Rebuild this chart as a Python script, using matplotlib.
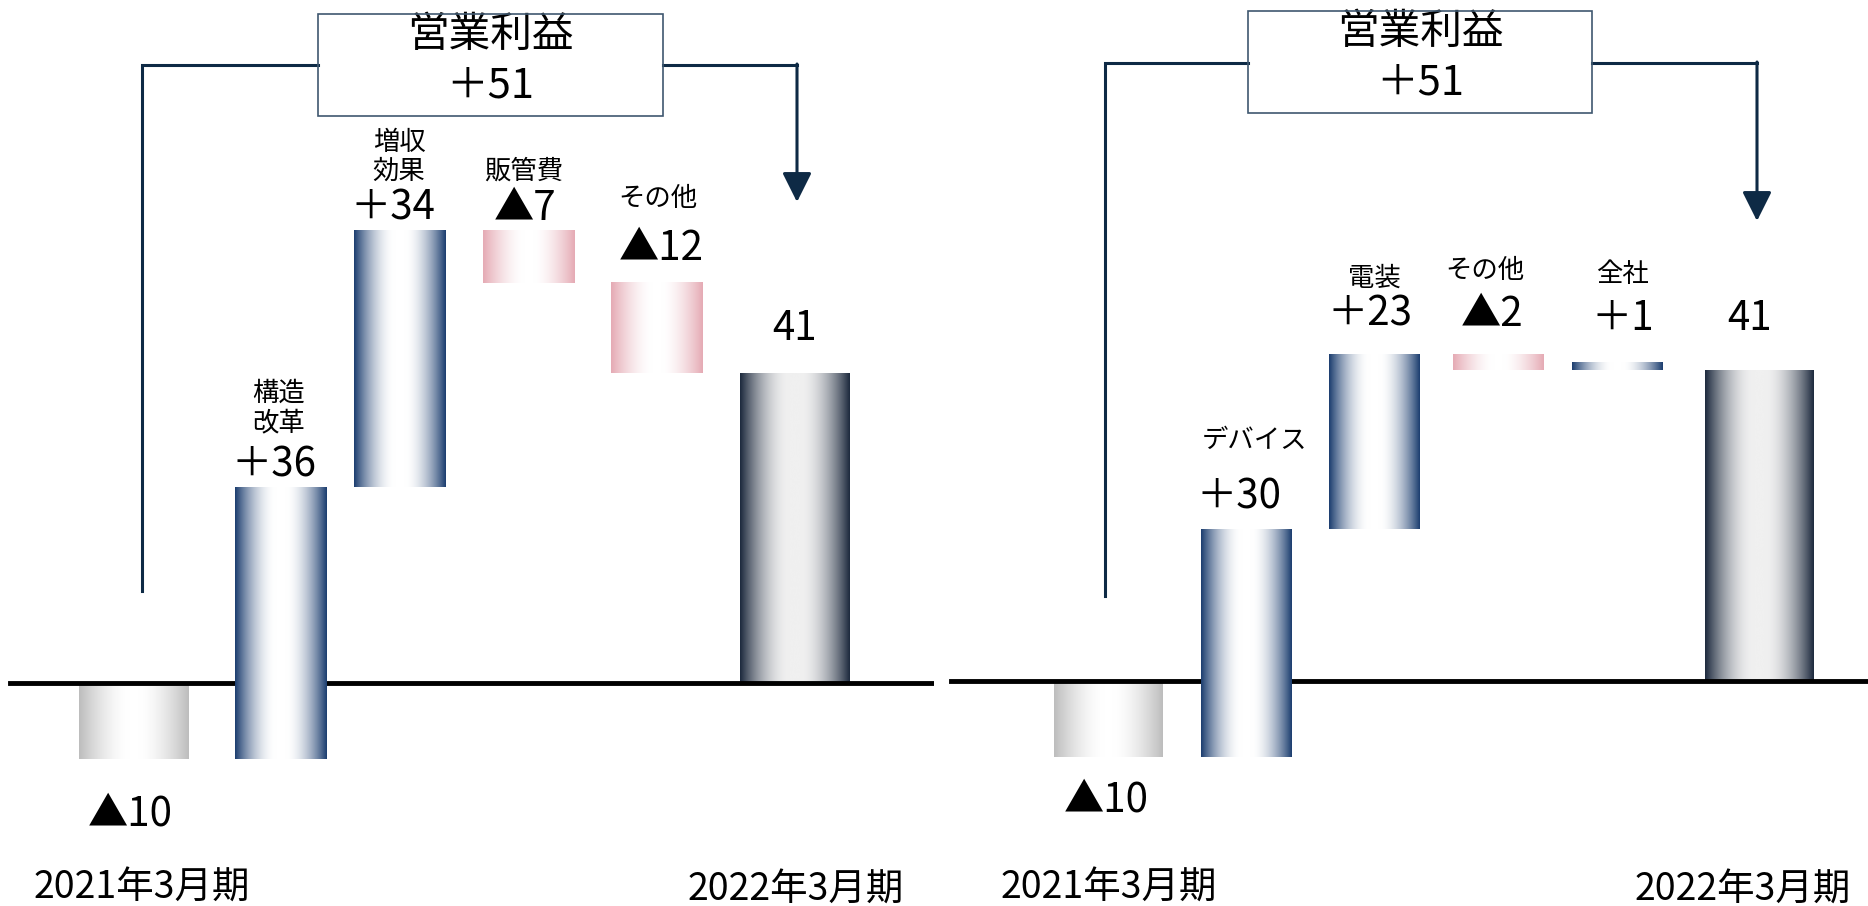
import matplotlib

matplotlib.use("Agg")

import matplotlib.pyplot as plt
import numpy as np
from matplotlib.colors import ListedColormap, to_rgb
from matplotlib.patches import Rectangle

plt.rcParams["font.family"] = ["Noto Sans CJK JP", "DejaVu Sans"]

# ---- data ----
period_labels = ["2021年3月期", "2022年3月期"]
total_title = "営業利益"

left_start = -10
left_steps = [36, 34, -7, -12]
left_names = ["構造\n改革", "増収\n効果", "販管費", "その他"]
left_end = 41

right_start = -10
right_steps = [30, 23, -2, 1]
right_names = ["デバイス", "電装", "その他", "全社"]
right_end = 41

# ---- layout (pixels of the 1868x906 canvas) ----
W, H = 1868, 906
NAVY = "#0e2a45"

LEFT = dict(
    span=(0, 934), base_px=683, ppu=7.55,
    centers=[134.5, 281, 400.5, 529.5, 657.5, 795.5],
    end_w=110, step_w=92, line=(10, 940),
    box=(318, 14, 663, 116), title_y=(35, 86),
    conn_left=(142, 591), conn_right=(797, 202), conn_y=65,
    start_lbl=(130, 814), period_pos=[(142, 888), (796, 890)],
    name_pos=[(279, 408), (399, 157), (524, 171), (658, 198)],
    val_pos=[(274, 465), (393, 208), (525, 208), (661, 248)],
    end_lbl=(795, 328),
)
RIGHT = dict(
    span=(934, 1868), base_px=681, ppu=7.58,
    centers=[1108.5, 1246.5, 1374.5, 1498, 1617.5, 1759],
    end_w=109, step_w=91, line=(951, 1868),
    box=(1248, 11, 1592, 113), title_y=(32, 83),
    conn_left=(1105, 596), conn_right=(1757, 221), conn_y=63,
    start_lbl=(1106, 800), period_pos=[(1109, 888), (1743, 890)],
    name_pos=[(1254, 440), (1374, 278), (1485, 270), (1622, 275)],
    val_pos=[(1239, 497), (1370, 314), (1492, 314), (1623, 318)],
    end_lbl=(1750, 318),
)


def cylinder_cmap(edge, center, plateau=0.12, power=2.0):
    # symmetric shading: flat highlight in the middle, darkening faster toward the edges
    t = np.linspace(0, 1, 256)
    d = np.abs(t - 0.5) / 0.5
    f = np.clip((d - plateau) / (1 - plateau), 0, 1) ** power
    e, c = np.array(to_rgb(edge)), np.array(to_rgb(center))
    return ListedColormap(c[None, :] * (1 - f[:, None]) + e[None, :] * f[:, None])


CMAPS = {
    "end_start": cylinder_cmap("#bdbdbd", "#ffffff", 0.1, 1.6),
    "end": cylinder_cmap("#1c293d", "#f0f0f0", 0.12, 1.8),
    "up": cylinder_cmap("#1b3d6f", "#ffffff", 0.12, 1.8),
    "down": cylinder_cmap("#e5aab4", "#ffffff", 0.12, 1.6),
}
GRAD = np.linspace(0, 1, 256).reshape(1, -1)


def fmt(v, signed=True):
    if v < 0:
        return f"▲{abs(v)}"
    return f"＋{v}" if signed else f"{v}"


def gradient_bar(ax, x, w, y0, y1, kind, z):
    ax.imshow(GRAD, cmap=CMAPS[kind], extent=(x - w / 2, x + w / 2, min(y0, y1), max(y0, y1)),
              aspect="auto", interpolation="bicubic", zorder=z)


def draw_panel(fig, ov, lay, start, steps, names, end):
    x0, x1 = lay["span"]
    ax = fig.add_axes([x0 / W, 0, (x1 - x0) / W, 1])
    ax.set_axis_off()
    c = lay["centers"]
    u = (c[-1] - c[0]) / (len(c) - 1)
    slots = [(ci - c[0]) / u for ci in c]

    # waterfall
    gradient_bar(ax, slots[0], lay["end_w"] / u, 0, start, "end_start", 1)
    level = start
    for i, s in enumerate(steps):
        gradient_bar(ax, slots[i + 1], lay["step_w"] / u, level, level + s, "up" if s > 0 else "down", 3)
        level += s
    gradient_bar(ax, slots[-1], lay["end_w"] / u, 0, end, "end", 1)

    ax.set_xlim((x0 - c[0]) / u, (x1 - c[0]) / u)
    ax.set_ylim(-(H - lay["base_px"]) / lay["ppu"], lay["base_px"] / lay["ppu"])
    lx0, lx1 = lay["line"]
    ax.axhline(0, xmin=(lx0 - x0) / (x1 - x0), xmax=(lx1 - x0) / (x1 - x0),
               color="black", lw=3.5, zorder=2)

    # labels
    big = 29
    ov.text(*lay["start_lbl"], fmt(start, False), ha="center", va="center", fontsize=big)
    ov.text(*lay["end_lbl"], fmt(end, False), ha="center", va="center", fontsize=big)
    for (px, py), lbl in zip(lay["period_pos"], period_labels):
        ov.text(px, py, lbl, ha="center", va="center", fontsize=27)
    for (px, py), n in zip(lay["name_pos"], names):
        ov.text(px, py, n, ha="center", va="center", fontsize=19, linespacing=1.1)
    for (px, py), s in zip(lay["val_pos"], steps):
        ov.text(px, py, fmt(s), ha="center", va="center", fontsize=big)

    # total box and connectors
    bx0, by0, bx1, by1 = lay["box"]
    ov.add_patch(Rectangle((bx0, by0), bx1 - bx0, by1 - by0, fill=False,
                           edgecolor="#3f5870", lw=1.2, zorder=5))
    bxc = (bx0 + bx1) / 2
    ov.text(bxc, lay["title_y"][0], total_title, ha="center", va="center", fontsize=30)
    ov.text(bxc, lay["title_y"][1], fmt(end - start), ha="center", va="center", fontsize=30)

    cy = lay["conn_y"]
    lx, ly = lay["conn_left"]
    rx, ry = lay["conn_right"]
    ov.plot([lx, lx, bx0], [ly, cy, cy], color=NAVY, lw=2.2, solid_joinstyle="miter")
    ov.plot([bx1, rx], [cy, cy], color=NAVY, lw=2.2)
    ov.annotate("", xy=(rx, ry), xytext=(rx, cy - 1),
                arrowprops=dict(arrowstyle="-|>,head_length=0.9,head_width=0.45",
                                color=NAVY, lw=2.2, shrinkA=0, shrinkB=0, mutation_scale=20))


def main():
    fig = plt.figure(figsize=(W / 100, H / 100), dpi=100)
    fig.patch.set_facecolor("white")
    ov = fig.add_axes([0, 0, 1, 1], zorder=10)
    ov.set_xlim(0, W)
    ov.set_ylim(H, 0)
    ov.set_axis_off()
    ov.patch.set_alpha(0)

    draw_panel(fig, ov, LEFT, left_start, left_steps, left_names, left_end)
    draw_panel(fig, ov, RIGHT, right_start, right_steps, right_names, right_end)

    fig.savefig("out.png", dpi=100)
    plt.close(fig)


if __name__ == "__main__":
    main()
